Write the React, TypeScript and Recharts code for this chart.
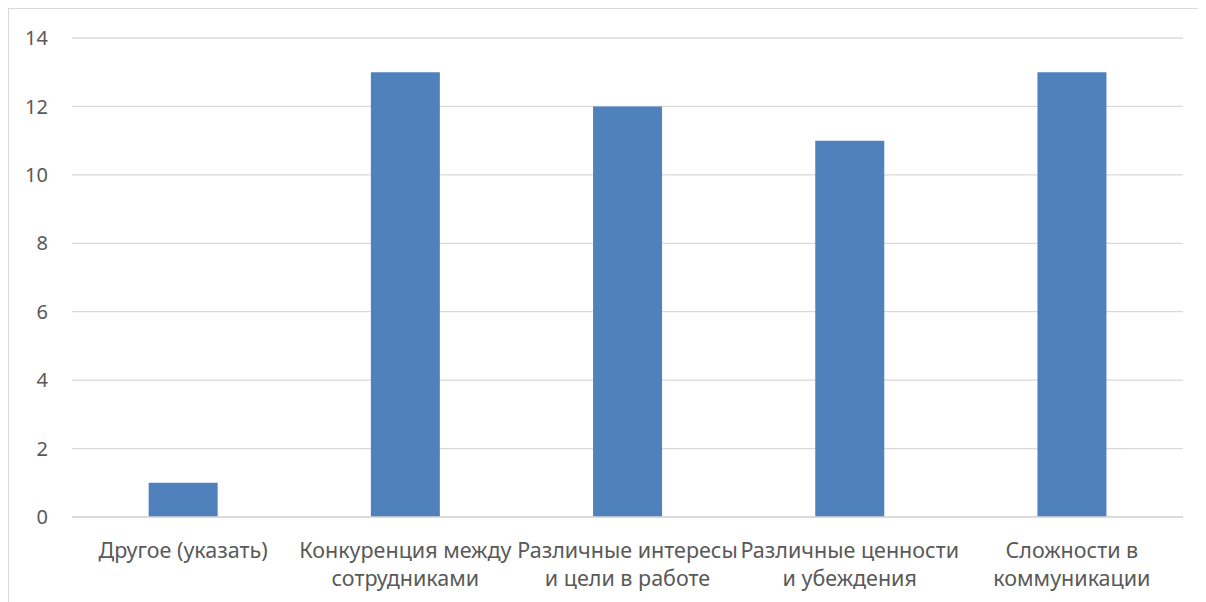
import { BarChart, Bar, XAxis, YAxis, CartesianGrid } from "recharts";

const categories = [
  ["Другое (указать)"],
  ["Конкуренция между", "сотрудниками"],
  ["Различные интересы", "и цели в работе"],
  ["Различные ценности", "и убеждения"],
  ["Сложности в", "коммуникации"],
];
const values = [1, 13, 12, 11, 13];
const yTicks = [0, 2, 4, 6, 8, 10, 12, 14];

const data = categories.map((lines, i) => ({
  name: lines.join(" "),
  lines,
  value: values[i],
}));

const FONT = "'Noto Sans', 'Open Sans', sans-serif";

function CategoryTick(props: any) {
  const { x, y, payload } = props;
  const item = data.find((d) => d.name === payload.value);
  const lines = item ? item.lines : [String(payload.value)];
  return (
    <g transform={`translate(${x},${y})`}>
      {lines.map((l, i) => (
        <text
          key={i}
          x={0}
          y={33 + i * 28}
          textAnchor="middle"
          fill="#595959"
          fontSize={21.5}
          fontFamily={FONT}
        >
          {l}
        </text>
      ))}
    </g>
  );
}

export default function App() {
  return (
    <div
      style={{
        width: 1198,
        height: 594,
        borderTop: "1px solid #d9d9d9",
        borderLeft: "1px solid #d9d9d9",
        background: "#fff",
      }}
    >
      <BarChart
        width={1197}
        height={593}
        data={data}
        margin={{ top: 29, right: 23, left: 0, bottom: 0 }}
        barCategoryGap="34.5%"
      >
        <CartesianGrid vertical={false} stroke="#d9d9d9" strokeWidth={1.3} />
        <XAxis
          dataKey="name"
          height={85}
          tickLine={false}
          axisLine={{ stroke: "#d9d9d9", strokeWidth: 1.3 }}
          tick={<CategoryTick />}
          interval={0}
        />
        <YAxis
          width={63}
          domain={[0, 14]}
          ticks={yTicks}
          tickLine={false}
          axisLine={false}
          tickMargin={18}
          tick={{ fill: "#595959", fontSize: 20, fontFamily: FONT }}
        />
        <Bar dataKey="value" fill="#4f81bd" isAnimationActive={false} />
      </BarChart>
    </div>
  );
}
